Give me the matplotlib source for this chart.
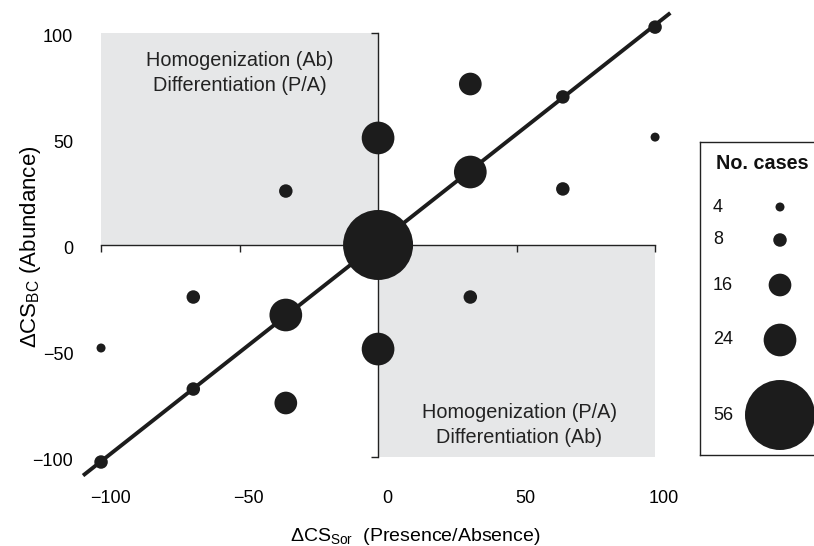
import matplotlib
matplotlib.use('Agg')
import matplotlib.pyplot as plt
import matplotlib.transforms as mtransforms

plt.rcParams['font.family'] = ['Liberation Sans', 'DejaVu Sans']
plt.rcParams['mathtext.fontset'] = 'custom'
plt.rcParams['mathtext.rm'] = 'Liberation Sans'
plt.rcParams['mathtext.it'] = 'Liberation Sans:italic'
plt.rcParams['mathtext.bf'] = 'Liberation Sans:bold'

# change in compositional similarity: presence/absence (x) vs abundance (y)
cs_sor = [-100, -66.7, -33.3, -33.3, -66.7, -100, 0, 0, -33.3, 0,
          33.3, 33.3, 33.3, 66.7, 66.7, 100, 100]
cs_bc = [-102.6, -68.1, -33.1, -74.7, -24.6, -48.7, -49.2, 0, 25.5, 50.6,
         76.1, 34.5, -24.6, 70.0, 26.5, 103, 51]
n_cases = [8, 8, 24, 16, 8, 4, 24, 56, 8, 24, 16, 24, 8, 8, 8, 8, 4]

legend_cases = [4, 8, 16, 24, 56]

# 1:1 reference line
line_x = [-106.5, 105.5]
line_y = [-109, 109.7]

ticks = [-100, -50, 0, 50, 100]

# marker diameter (pixels) for each number of cases
diam_px = {4: 9, 8: 13.5, 16: 22.7, 24: 32.7, 56: 70}


def msize(n):
    return (diam_px[n] * 0.72) ** 2


ink = '#1c1c1c'
grey = '#e6e7e8'

fig = plt.figure(figsize=(8.14, 5.46), dpi=100)
ax = fig.add_axes([0.0901, 0.1174, 0.7487, 0.8678])
ax.set_xlim(-110, 110)
ax.set_ylim(-112, 112)

# shaded quadrants
ax.fill_between([-100, 0], 0, 100, color=grey, lw=0, zorder=0)
ax.fill_between([0, 100], -100, 0, color=grey, lw=0, zorder=0)

# axes crossing at the origin
ax.spines['left'].set_visible(False)
ax.spines['bottom'].set_visible(False)
ax.spines['top'].set_position(('data', 0))
ax.spines['top'].set_bounds(-100, 100)
ax.spines['right'].set_position(('data', 0))
ax.spines['right'].set_bounds(-100, 100)
for s in ['top', 'right']:
    ax.spines[s].set_color('#222222')
    ax.spines[s].set_linewidth(1)
    ax.spines[s].set_zorder(1)

ax.set_xticks(ticks)
ax.set_yticks(ticks)
ax.xaxis.set_ticks_position('top')
ax.yaxis.set_ticks_position('right')
ax.tick_params(axis='x', labelbottom=True, labeltop=False, direction='in',
               length=5, width=1, color='#222222', labelsize=13, pad=5.5)
ax.tick_params(axis='y', labelleft=True, labelright=False, direction='in',
               length=5, width=1, color='#222222', labelsize=13, pad=0)

for lab in ax.get_xticklabels():
    lab.set_transform(lab.get_transform() +
                      mtransforms.ScaledTranslation(0.09, 0, fig.dpi_scale_trans))
for lab in ax.get_yticklabels():
    lab.set_transform(lab.get_transform() +
                      mtransforms.ScaledTranslation(0, -0.025, fig.dpi_scale_trans))

ax.plot(line_x, line_y, color=ink, lw=2.8, solid_capstyle='butt', zorder=2,
        clip_on=False)
ax.scatter(cs_sor, cs_bc, s=[msize(n) for n in n_cases], color=ink, lw=0,
           zorder=3, clip_on=False)

ax.text(-50, 81.5, 'Homogenization (Ab)\nDifferentiation (P/A)', ha='center',
        va='center', fontsize=14.3, color='#222222', linespacing=1.4)
ax.text(51, -85, 'Homogenization (P/A)\nDifferentiation (Ab)', ha='center',
        va='center', fontsize=14.3, color='#222222', linespacing=1.4)

ax.set_xlabel(r'ΔCS$_{\mathrm{Sor}}$  (Presence/Absence)', fontsize=14)
ax.xaxis.label.set_va('center')
ax.xaxis.set_label_coords(0.5604, -0.116)
ax.set_ylabel(r'ΔCS$_{\mathrm{BC}}$ (Abundance)', fontsize=16)
ax.yaxis.label.set_va('center')
ax.yaxis.set_label_coords(-0.071, 0.4958)

# size legend box (runs off the right edge)
lax = fig.add_axes([700 / 814, (546 - 455) / 546, 140 / 814, 313 / 546])
lax.set_xlim(0, 140)
lax.set_ylim(313, 0)
lax.set_xticks([])
lax.set_yticks([])
for s in lax.spines.values():
    s.set_linewidth(1)
    s.set_color('#222222')
lax.text(62, 21, 'No. cases', ha='center', va='center', fontsize=14.2,
         fontweight='bold', color='#111111')
leg_y = [65, 98, 143, 198, 273]
for n, yy in zip(legend_cases, leg_y):
    lax.text(13, yy, str(n), ha='left', va='center', fontsize=13,
             color='#111111')
lax.scatter([80] * len(legend_cases), leg_y,
            s=[msize(n) for n in legend_cases], color=ink, lw=0,
            clip_on=False)

fig.savefig('out.png', dpi=100)
